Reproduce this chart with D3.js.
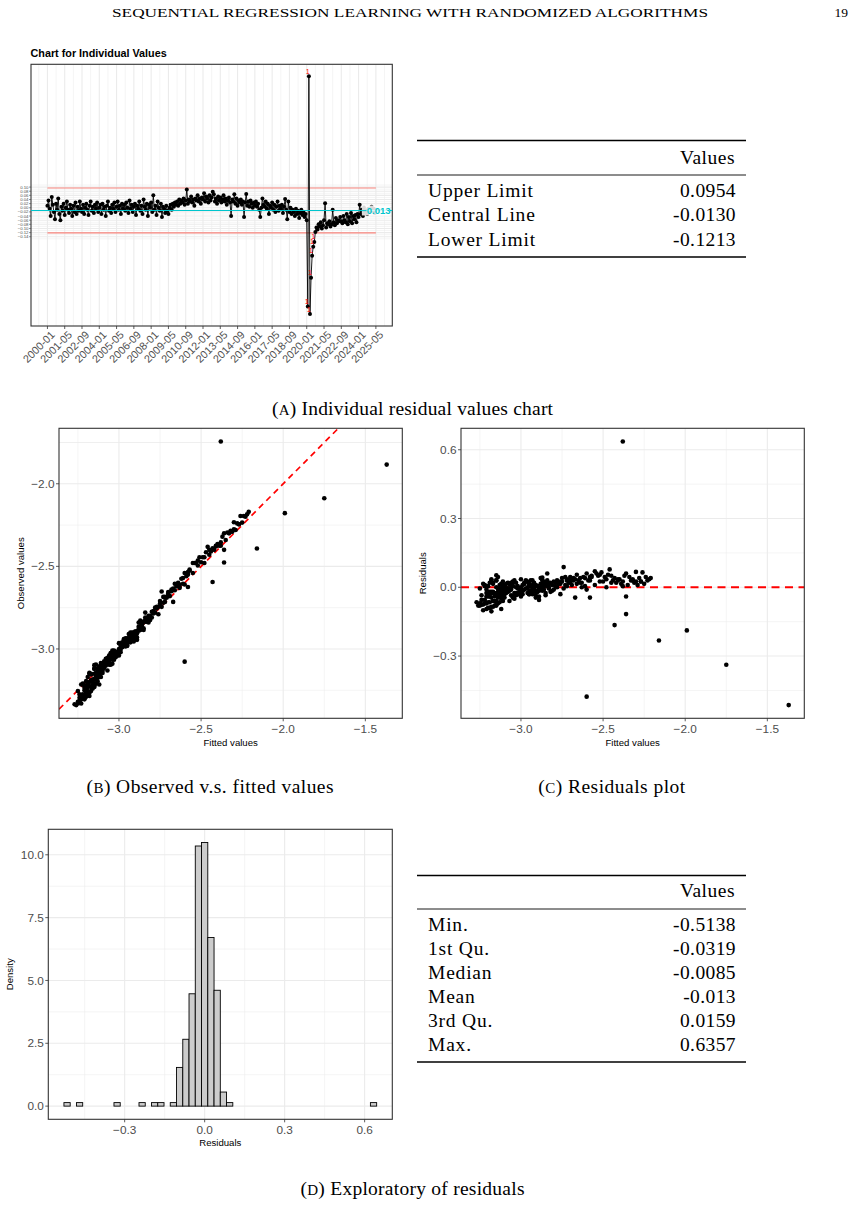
<!DOCTYPE html>
<html><head><meta charset="utf-8">
<script src="https://cdn.jsdelivr.net/npm/d3@7"></script>
<style>body{margin:0;background:#fff}</style>
</head><body>
<svg id="c" width="856" height="1206"></svg>
<script>
// ---------------- DATA ----------------
const headerText = "SEQUENTIAL REGRESSION LEARNING WITH RANDOMIZED ALGORITHMS";
const pageNumber = "19";
const chartATitle = "Chart for Individual Values";
const xTickLabelsA = ["2000-01","2001-05","2002-09","2004-01","2005-05","2006-09","2008-01","2009-05","2010-09","2012-01","2013-05","2014-09","2016-01","2017-05","2018-09","2020-01","2021-05","2022-09","2024-01","2025-05"];
const yTicksA = [0.10,0.08,0.06,0.04,0.02,0.00,-0.02,-0.04,-0.06,-0.08,-0.10,-0.12,-0.14];
const limitNames = ["Upper Limit","Central Line","Lower Limit"];
const limitValues = [0.0954,-0.0130,-0.1213];

// residuals in time order (monthly, 2000-01 .. 2025-05)
const residuals = [
 0.010,0.035,-0.005,-0.040,0.052,0.015,-0.020,-0.055,0.020,-0.010,0.045,-0.030,
 -0.060,0.005,-0.015,0.020,-0.035,0.000,0.030,-0.010,-0.025,0.015,-0.005,-0.040,
 0.010,-0.020,0.025,-0.030,0.005,-0.015,0.030,-0.005,-0.020,0.015,-0.030,0.000,
 0.020,-0.010,-0.035,0.010,0.030,-0.015,0.005,-0.025,0.015,-0.005,0.025,-0.020,
 0.000,0.015,-0.030,0.020,-0.010,0.005,-0.040,0.010,0.030,-0.015,0.000,-0.025,
 0.015,-0.005,0.025,-0.020,0.005,0.030,-0.010,0.010,-0.030,0.020,-0.005,0.015,
 -0.015,0.025,0.000,-0.025,0.035,-0.005,0.015,-0.020,0.005,0.020,-0.035,0.010,
 -0.005,0.030,-0.015,0.010,-0.030,0.040,0.005,-0.010,0.020,-0.040,0.015,0.000,
 0.025,-0.020,0.060,-0.010,0.010,-0.035,0.030,0.000,-0.015,0.020,-0.045,0.005,
 -0.005,-0.025,0.010,-0.015,-0.030,0.000,0.015,-0.010,0.020,0.005,0.025,0.015,
 0.030,0.010,0.040,0.020,0.035,0.025,0.045,0.015,0.035,0.088,0.020,0.040,
 0.030,0.055,0.025,0.040,0.010,0.045,0.035,0.060,0.030,0.045,0.020,0.050,
 0.040,0.070,0.030,0.055,0.045,0.025,0.060,0.035,0.050,0.078,0.065,0.030,
 0.045,0.020,0.055,0.035,0.050,0.025,0.040,0.060,0.030,0.045,0.015,0.035,
 0.050,0.025,-0.040,0.040,0.030,0.065,0.020,0.045,0.010,0.035,0.025,0.040,
 0.015,0.030,-0.045,0.025,0.067,0.010,0.030,0.005,0.035,0.020,0.000,0.025,
 0.010,0.030,0.005,0.020,-0.010,-0.045,0.000,0.045,0.015,0.005,0.030,-0.005,
 0.020,-0.030,0.010,0.000,0.025,-0.010,0.015,-0.020,0.005,0.030,-0.015,0.010,
 -0.005,0.015,-0.025,0.005,0.042,-0.010,-0.055,0.030,-0.020,0.000,-0.030,-0.010,
 -0.020,-0.040,-0.005,-0.030,-0.015,-0.050,-0.025,-0.010,-0.035,-0.020,-0.045,-0.030,
 -0.060,-0.477,0.636,-0.514,-0.338,-0.232,-0.188,-0.165,-0.117,-0.095,-0.105,-0.080,
 -0.090,-0.070,-0.100,-0.085,-0.060,0.022,-0.095,-0.075,-0.080,-0.065,-0.090,-0.080,
 -0.010,-0.070,-0.085,-0.050,-0.075,-0.060,-0.065,-0.045,-0.065,-0.075,-0.040,-0.060,
 -0.070,-0.030,-0.080,-0.045,-0.065,-0.025,-0.075,-0.040,-0.055,-0.035,-0.070,-0.030,
 -0.045,0.014,-0.030,-0.010,-0.040,0.000,-0.025,-0.015,-0.030,-0.005,-0.020,-0.010,
 0.005,-0.015,-0.005,-0.025,-0.010
];
// fitted values, same order
const fitted = [
 -3.22,-3.18,-3.25,-3.20,-3.15,-3.23,-3.19,-3.24,-3.17,-3.21,-3.14,-3.20,
 -3.16,-3.22,-3.13,-3.19,-3.24,-3.15,-3.18,-3.12,-3.21,-3.17,-3.14,-3.19,
 -3.13,-3.18,-3.11,-3.16,-3.20,-3.10,-3.15,-3.12,-3.17,-3.09,-3.14,-3.11,
 -3.08,-3.13,-3.06,-3.11,-3.15,-3.07,-3.10,-3.04,-3.12,-3.08,-3.05,-3.09,
 -3.03,-3.07,-3.01,-3.06,-3.10,-3.02,-3.05,-2.99,-3.04,-3.08,-3.00,-3.03,
 -2.98,-3.02,-2.96,-3.01,-3.05,-2.97,-3.00,-2.95,-2.99,-3.03,-2.96,-2.98,
 -2.94,-2.97,-2.92,-2.96,-3.00,-2.93,-2.95,-2.90,-2.94,-2.98,-2.91,-2.93,
 -2.89,-2.93,-2.87,-2.91,-2.95,-2.88,-2.90,-2.86,-2.92,-2.89,-2.85,-2.88,
 -2.86,-2.90,-2.84,-2.88,-2.92,-2.85,-2.87,-2.83,-2.89,-2.86,-2.91,-2.84,
 -2.88,-2.93,-2.86,-2.90,-2.95,-2.87,-2.84,-2.89,-2.82,-2.86,-2.80,-2.83,
 -2.78,-2.81,-2.75,-2.79,-2.72,-2.77,-2.73,-2.76,-2.70,-2.74,-2.71,-2.68,
 -2.72,-2.66,-2.70,-2.64,-2.69,-2.62,-2.67,-2.60,-2.65,-2.58,-2.63,-2.57,
 -2.61,-2.55,-2.59,-2.52,-2.57,-2.50,-2.54,-2.48,-2.53,-2.46,-2.51,-2.44,
 -2.49,-2.42,-2.47,-2.40,-2.45,-2.38,-2.43,-2.36,-2.41,-2.34,-2.39,-2.32,
 -2.37,-2.30,-2.36,-2.28,-2.33,-2.26,-2.31,-2.24,-2.29,-2.22,-2.27,-2.21,
 -2.25,-2.23,-2.58,-2.27,-2.30,-2.35,-2.32,-2.38,-2.41,-2.45,-2.48,-2.52,
 -2.55,-2.58,-2.61,-2.64,-2.60,-2.67,-2.63,-2.70,-2.66,-2.72,-2.68,-2.74,
 -2.70,-2.76,-2.73,-2.78,-2.75,-2.80,-2.77,-2.82,-2.79,-2.84,-2.81,-2.86,
 -2.83,-2.88,-2.85,-2.90,-2.87,-2.92,-2.89,-2.94,-2.91,-2.96,-2.93,-2.98,
 -2.95,-3.00,-2.97,-3.02,-2.99,-3.04,-3.01,-3.06,-3.03,-3.08,-3.05,-3.10,
 -3.07,-2.60,-2.38,-1.37,-1.75,-2.16,-1.99,-2.43,-2.36,-3.12,-3.18,-3.15,
 -3.20,-3.14,-3.23,-3.17,-3.11,-3.05,-3.21,-3.15,-3.25,-3.13,-3.19,-3.16,
 -3.08,-3.22,-3.18,-3.12,-3.24,-3.15,-3.27,-3.10,-3.19,-3.23,-3.13,-3.17,
 -3.21,-3.11,-3.26,-3.14,-3.20,-3.09,-3.24,-3.16,-3.22,-3.12,-3.25,-3.13,
 -3.18,-3.07,-3.15,-3.10,-3.21,-3.06,-3.17,-3.11,-3.19,-3.08,-3.14,-3.09,
 -3.05,-3.12,-3.08,-3.16,-3.10
];
const xTicksBC = [-3.0,-2.5,-2.0,-1.5];
const yTicksB = [-3.0,-2.5,-2.0];
const yTicksC = [-0.3,0.0,0.3,0.6];

// histogram (50 bins)
const histStart = -0.5278;
const histBinWidth = 0.023459;
const histDensity = [
 0.14,0,0.14,0,0,0,0,0,0.14,0,0,0,0.14,0,0.14,0.14,0,0.14,1.54,2.66,
 4.47,10.35,10.49,6.71,4.61,0.56,0.14,0,0,0,0,0,0,0,0,0,0,0,0,0,
 0,0,0,0,0,0,0,0,0,0.14
];
const xTicksD = [-0.3,0.0,0.3,0.6];
const yTicksD = [0.0,2.5,5.0,7.5,10.0];

const summaryNames = ["Min.","1st Qu.","Median","Mean","3rd Qu.","Max."];
const summaryValues = ["-0.5138","-0.0319","-0.0085","-0.013","0.0159","0.6357"];
const limitValueText = ["0.0954","-0.0130","-0.1213"];

const captions = [
  {tag:"A", text:" Individual residual values chart"},
  {tag:"B", text:" Observed v.s. fitted values"},
  {tag:"C", text:" Residuals plot"},
  {tag:"D", text:" Exploratory of residuals"}
];

// ---------------- STYLE ----------------
const SERIF = "'Liberation Serif','Times New Roman',serif";
const SANS = "'Liberation Sans',Arial,sans-serif";
const GRID = "#EBEBEB", BORDER = "#333333", TXT = "#4D4D4D";
const svg = d3.select("#c");
svg.append("rect").attr("width",856).attr("height",1206).attr("fill","#fff");

function expand(ext, m){ m = m===undefined?0.05:m; const d = ext[1]-ext[0]; return [ext[0]-d*m, ext[1]+d*m]; }
function mids(t){ const out=[]; const s=t[1]-t[0]; out.push(t[0]-s/2); for(let i=0;i<t.length;i++) out.push(t[i]+s/2); return out; }
const fmt1 = d3.format(".1f"), fmt2 = d3.format(".2f"), fmt3 = d3.format(".3f");

function grid(g, P, xs, ys, xMaj, xMin, yMaj, yMin){
  const inX = v => { const d = xs.domain(); return v>=Math.min(d[0],d[1]) && v<=Math.max(d[0],d[1]); };
  const inY = v => { const d = ys.domain(); return v>=Math.min(d[0],d[1]) && v<=Math.max(d[0],d[1]); };
  g.selectAll(null).data(yMin.filter(inY)).enter().append("line")
    .attr("x1",P.l).attr("x2",P.r).attr("y1",d=>ys(d)).attr("y2",d=>ys(d)).attr("stroke",GRID).attr("stroke-width",0.55);
  g.selectAll(null).data(xMin.filter(inX)).enter().append("line")
    .attr("y1",P.t).attr("y2",P.b).attr("x1",d=>xs(d)).attr("x2",d=>xs(d)).attr("stroke",GRID).attr("stroke-width",0.55);
  g.selectAll(null).data(yMaj.filter(inY)).enter().append("line")
    .attr("x1",P.l).attr("x2",P.r).attr("y1",d=>ys(d)).attr("y2",d=>ys(d)).attr("stroke",GRID).attr("stroke-width",1.1);
  g.selectAll(null).data(xMaj.filter(inX)).enter().append("line")
    .attr("y1",P.t).attr("y2",P.b).attr("x1",d=>xs(d)).attr("x2",d=>xs(d)).attr("stroke",GRID).attr("stroke-width",1.1);
}
function border(g, P){
  g.append("rect").attr("x",P.l).attr("y",P.t).attr("width",P.r-P.l).attr("height",P.b-P.t)
    .attr("fill","none").attr("stroke",BORDER).attr("stroke-width",1.1);
}
function axes(g, P, xs, ys, xT, yT, fx, fy, fs){
  g.selectAll(null).data(xT).enter().append("line").attr("x1",d=>xs(d)).attr("x2",d=>xs(d))
    .attr("y1",P.b).attr("y2",P.b+3).attr("stroke",BORDER).attr("stroke-width",0.8);
  g.selectAll(null).data(yT).enter().append("line").attr("y1",d=>ys(d)).attr("y2",d=>ys(d))
    .attr("x1",P.l-3).attr("x2",P.l).attr("stroke",BORDER).attr("stroke-width",0.8);
  g.selectAll(null).data(xT).enter().append("text").attr("x",d=>xs(d)).attr("y",P.b+4+fs*0.9)
    .attr("text-anchor","middle").attr("font-family",SANS).attr("font-size",fs).attr("fill",TXT).text(fx);
  g.selectAll(null).data(yT).enter().append("text").attr("x",P.l-4.5).attr("y",d=>ys(d)+fs*0.35)
    .attr("text-anchor","end").attr("font-family",SANS).attr("font-size",fs).attr("fill",TXT).text(fy);
}
function axisTitles(g, P, xt, yt, xty, ytx, fs){
  g.append("text").attr("x",(P.l+P.r)/2).attr("y",xty).attr("text-anchor","middle")
    .attr("font-family",SANS).attr("font-size",fs).attr("fill","#000").text(xt);
  g.append("text").attr("transform",`translate(${ytx},${(P.t+P.b)/2}) rotate(-90)`).attr("text-anchor","middle")
    .attr("font-family",SANS).attr("font-size",fs).attr("fill","#000").text(yt);
}

// ---------------- HEADER ----------------
svg.append("text").attr("x",410).attr("y",16.5).attr("text-anchor","middle").attr("font-family",SERIF)
  .attr("font-size",12.5).attr("textLength",596).attr("lengthAdjust","spacingAndGlyphs").text(headerText);
svg.append("text").attr("x",848).attr("y",16.5).attr("text-anchor","end").attr("font-family",SERIF)
  .attr("font-size",13.5).text(pageNumber);

// ---------------- CHART A ----------------
(function(){
  const g = svg.append("g");
  const P = {l:31, r:392.3, t:64.3, b:326};
  const n = residuals.length;
  const xs = d3.scaleLinear().domain(expand([0,n-1])).range([P.l,P.r]);
  const ys = d3.scaleLinear().domain(expand(d3.extent(residuals))).range([P.b,P.t]);
  const idx = xTickLabelsA.map(s => { const p = s.split("-").map(Number); return (p[0]-2000)*12 + p[1]-1; });
  const yMinor = yTicksA.map(v=>v-0.01).concat([0.11]);
  g.append("rect").attr("x",P.l).attr("y",P.t).attr("width",P.r-P.l).attr("height",P.b-P.t).attr("fill","#fff");
  grid(g,P,xs,ys,idx,mids(idx),yTicksA,yMinor);
  border(g,P);
  // ticks & labels
  g.selectAll(null).data(idx).enter().append("line").attr("x1",d=>xs(d)).attr("x2",d=>xs(d))
    .attr("y1",P.b).attr("y2",P.b+3).attr("stroke",BORDER).attr("stroke-width",0.8);
  g.selectAll(null).data(yTicksA).enter().append("line").attr("y1",d=>ys(d)).attr("y2",d=>ys(d))
    .attr("x1",P.l-2).attr("x2",P.l).attr("stroke",BORDER).attr("stroke-width",0.5);
  g.selectAll(null).data(yTicksA).enter().append("text").attr("x",P.l-2.5).attr("y",d=>ys(d)+1.5)
    .attr("text-anchor","end").attr("font-family",SANS).attr("font-size",4.3).attr("fill",TXT).text(d=>fmt2(d));
  g.selectAll(null).data(xTickLabelsA).enter().append("text")
    .attr("transform",(d,i)=>`translate(${xs(idx[i])+2.5},${P.b+4}) rotate(-45)`)
    .attr("text-anchor","end").attr("dy","0.72em").attr("font-family",SANS).attr("font-size",10.8).attr("fill",TXT).text(d=>d);
  // title
  g.append("text").attr("x",30.5).attr("y",56.5).attr("font-family",SANS).attr("font-weight","bold")
    .attr("font-size",10.8).attr("fill","#000").text(chartATitle);
  // limits
  const [ucl, cl, lcl] = limitValues;
  [ucl,lcl].forEach(v => g.append("line").attr("x1",xs(0)).attr("x2",xs(n-1)).attr("y1",ys(v)).attr("y2",ys(v))
    .attr("stroke","#F8847C").attr("stroke-width",1.1));
  // data
  g.append("path").datum(residuals).attr("fill","none").attr("stroke","#000").attr("stroke-width",0.9)
    .attr("d", d3.line().x((d,i)=>xs(i)).y(d=>ys(d)));
  g.selectAll(null).data(residuals).enter().append("circle").attr("cx",(d,i)=>xs(i)).attr("cy",d=>ys(d)).attr("r",2.0).attr("fill","#000");
  g.append("line").attr("x1",P.l).attr("x2",P.r).attr("y1",ys(cl)).attr("y2",ys(cl)).attr("stroke","#00C5CD").attr("stroke-width",1.1);
  // violations
  const viol = residuals.map((d,i)=>({d,i})).filter(o => o.d>ucl || o.d<lcl);
  g.selectAll(null).data(viol).enter().append("text").attr("x",o=>xs(o.i)-1.2).attr("y",o=>ys(o.d)-2.5)
    .attr("text-anchor","middle").attr("font-family",SANS).attr("font-size",7).attr("fill","#FF0000").text("1");
  // center label
  const lx = xs(n-1), ly = ys(cl);
  g.append("rect").attr("x",lx-14).attr("y",ly-5).attr("width",28).attr("height",10).attr("fill","#fff").attr("opacity",0.85);
  g.append("text").attr("x",lx).attr("y",ly+3.4).attr("text-anchor","middle").attr("font-family",SANS)
    .attr("font-weight","bold").attr("font-size",9.5).attr("fill","#00C5CD").text(fmt3(cl));
})();

// ---------------- TABLES ----------------
function table(top, mid, bottom, headY, rowY0, step, names, vals){
  const g = svg.append("g").attr("font-family",SERIF).attr("font-size",19.5).attr("fill","#000");
  g.append("line").attr("x1",417).attr("x2",746).attr("y1",top).attr("y2",top).attr("stroke","#000").attr("stroke-width",1.4);
  g.append("line").attr("x1",417).attr("x2",746).attr("y1",mid).attr("y2",mid).attr("stroke","#000").attr("stroke-width",0.9);
  g.append("line").attr("x1",417).attr("x2",746).attr("y1",bottom).attr("y2",bottom).attr("stroke","#000").attr("stroke-width",1.4);
  g.append("text").attr("x",735).attr("y",headY).attr("text-anchor","end").attr("letter-spacing",0.5).text("Values");
  g.selectAll(null).data(names).enter().append("text").attr("x",428).attr("y",(d,i)=>rowY0+i*step).attr("letter-spacing",0.8).text(d=>d);
  g.selectAll(null).data(vals).enter().append("text").attr("x",736).attr("y",(d,i)=>rowY0+i*step).attr("text-anchor","end").attr("letter-spacing",0.4).text(d=>d);
}
table(140.5, 175, 257, 164, 197, 24.3, limitNames, limitValueText);
table(875.5, 909, 1062, 897, 931, 24, summaryNames, summaryValues);

// ---------------- CAPTIONS ----------------
function caption(c, cx, y, w){
  const t = svg.append("text").attr("x",cx).attr("y",y).attr("text-anchor","middle").attr("font-family",SERIF)
    .attr("font-size",19.5).attr("fill","#000").attr("textLength",w).attr("lengthAdjust","spacing");
  t.append("tspan").text("(");
  t.append("tspan").attr("font-size",15).text(c.tag);
  t.append("tspan").text(")" + c.text);
}
caption(captions[0], 412.5, 415, 281);
caption(captions[1], 210, 793, 247);
caption(captions[2], 611.7, 793, 147);
caption(captions[3], 412.5, 1195, 224);

// ---------------- CHART B ----------------
const observed = fitted.map((f,i)=>f+residuals[i]);
(function(){
  const g = svg.append("g");
  const P = {l:59, r:402.3, t:428.3, b:718.3};
  const xs = d3.scaleLinear().domain(expand(d3.extent(fitted))).range([P.l,P.r]);
  const ys = d3.scaleLinear().domain(expand(d3.extent(observed))).range([P.b,P.t]);
  grid(g,P,xs,ys,xTicksBC,mids(xTicksBC),yTicksB,mids(yTicksB).concat([-1.75]));
  g.append("clipPath").attr("id","clipB").append("rect").attr("x",P.l).attr("y",P.t).attr("width",P.r-P.l).attr("height",P.b-P.t);
  const dx = xs.domain();
  g.append("line").attr("clip-path","url(#clipB)").attr("x1",xs(dx[0])).attr("y1",ys(dx[0])).attr("x2",xs(dx[1])).attr("y2",ys(dx[1]))
    .attr("stroke","#FF0000").attr("stroke-width",1.7).attr("stroke-dasharray","6,4.5");
  g.selectAll(null).data(fitted).enter().append("circle").attr("cx",d=>xs(d)).attr("cy",(d,i)=>ys(observed[i])).attr("r",2.3).attr("fill","#000");
  border(g,P);
  axes(g,P,xs,ys,xTicksBC,yTicksB,fmt1,fmt1,11.8);
  axisTitles(g,P,"Fitted values","Observed values",746,24,9.6);
})();

// ---------------- CHART C ----------------
(function(){
  const g = svg.append("g");
  const P = {l:461, r:804.3, t:428.3, b:718.3};
  const xs = d3.scaleLinear().domain(expand(d3.extent(fitted))).range([P.l,P.r]);
  const ys = d3.scaleLinear().domain(expand(d3.extent(residuals))).range([P.b,P.t]);
  grid(g,P,xs,ys,xTicksBC,mids(xTicksBC),yTicksC,mids(yTicksC));
  g.append("line").attr("x1",P.l).attr("x2",P.r).attr("y1",ys(0)).attr("y2",ys(0))
    .attr("stroke","#FF0000").attr("stroke-width",2).attr("stroke-dasharray","8,5.5");
  g.selectAll(null).data(fitted).enter().append("circle").attr("cx",d=>xs(d)).attr("cy",(d,i)=>ys(residuals[i])).attr("r",2.3).attr("fill","#000");
  border(g,P);
  axes(g,P,xs,ys,xTicksBC,yTicksC,fmt1,fmt1,11.8);
  axisTitles(g,P,"Fitted values","Residuals",746,426,9.6);
})();

// ---------------- CHART D ----------------
(function(){
  const g = svg.append("g");
  const P = {l:48.3, r:392.3, t:829.3, b:1119.3};
  const bins = histDensity.map((d,i)=>({x0:histStart+i*histBinWidth, x1:histStart+(i+1)*histBinWidth, d}));
  const xs = d3.scaleLinear().domain(expand([bins[0].x0, bins[bins.length-1].x1])).range([P.l,P.r]);
  const ys = d3.scaleLinear().domain(expand([0,d3.max(histDensity)])).range([P.b,P.t]);
  grid(g,P,xs,ys,xTicksD,mids(xTicksD),yTicksD,mids(yTicksD));
  g.selectAll(null).data(bins).enter().append("rect").attr("x",b=>xs(b.x0)).attr("width",b=>xs(b.x1)-xs(b.x0))
    .attr("y",b=>ys(b.d)).attr("height",b=>ys(0)-ys(b.d)).attr("fill","#CCCCCC").attr("stroke","#000").attr("stroke-width",0.9);
  border(g,P);
  axes(g,P,xs,ys,xTicksD,yTicksD,fmt1,fmt1,11.8);
  axisTitles(g,P,"Residuals","Density",1146,13,9.6);
})();
</script>
</body></html>
